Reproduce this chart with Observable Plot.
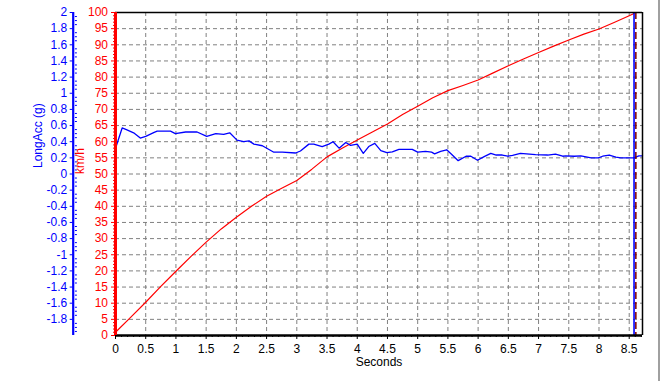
<!DOCTYPE html>
<html>
<head>
<meta charset="utf-8">
<script src="https://cdn.jsdelivr.net/npm/d3@7"></script>
<script src="https://cdn.jsdelivr.net/npm/@observablehq/plot@0.6"></script>
<style>
  html, body { margin: 0; padding: 0; background: #fff; }
  #wrap { position: relative; width: 662px; height: 381px; overflow: hidden; }
  #edge { position: absolute; left: 658px; top: 0; width: 2px; height: 381px; background: #a0a0a0; }
</style>
</head>
<body>
<div id="wrap"><div id="edge"></div></div>
<script>
// ---- data ----
const xMax = 8.72;
const cursorT = 8.58;
const markerT = 8.61;

const speedT = [0, 0.25, 0.5, 0.75, 1.0, 1.25, 1.5, 1.75, 2.0, 2.25, 2.5, 2.75, 3.0, 3.25, 3.5, 3.75, 4.0, 4.25, 4.5, 4.75, 5.0, 5.25, 5.5, 5.75, 6.0, 6.25, 6.5, 6.75, 7.0, 7.25, 7.5, 7.75, 8.0, 8.25, 8.5, 8.58];
const speedKmh = [1, 5.6, 10.3, 15.2, 19.9, 24.5, 28.9, 33.0, 36.6, 40.0, 43.1, 45.6, 48.0, 51.5, 55.3, 58.0, 60.5, 63.0, 65.5, 68.4, 71.0, 73.6, 75.8, 77.4, 79.1, 81.3, 83.5, 85.6, 87.6, 89.6, 91.5, 93.3, 94.9, 96.9, 99.0, 99.7];

const accT = [0.01, 0.11, 0.18, 0.30, 0.41, 0.50, 0.64, 0.69, 0.91, 0.99, 1.16, 1.35, 1.51, 1.66, 1.79, 1.89, 2.01, 2.12, 2.21, 2.29, 2.43, 2.62, 2.76, 2.98, 3.06, 3.20, 3.28, 3.42, 3.53, 3.60, 3.70, 3.81, 3.89, 4.00, 4.10, 4.19, 4.29, 4.39, 4.49, 4.58, 4.69, 4.91, 5.00, 5.13, 5.23, 5.28, 5.38, 5.48, 5.56, 5.67, 5.80, 5.88, 5.99, 6.10, 6.21, 6.30, 6.40, 6.49, 6.57, 6.70, 6.95, 7.15, 7.28, 7.40, 7.45, 7.59, 7.70, 7.87, 7.99, 8.06, 8.17, 8.28, 8.36, 8.58, 8.66, 8.72];
const accG = [0.34, 0.57, 0.55, 0.51, 0.445, 0.465, 0.515, 0.53, 0.53, 0.50, 0.52, 0.52, 0.465, 0.50, 0.49, 0.51, 0.42, 0.40, 0.41, 0.37, 0.35, 0.27, 0.27, 0.26, 0.285, 0.37, 0.37, 0.34, 0.37, 0.40, 0.32, 0.39, 0.355, 0.37, 0.255, 0.34, 0.38, 0.29, 0.265, 0.275, 0.305, 0.305, 0.27, 0.28, 0.27, 0.25, 0.28, 0.30, 0.245, 0.165, 0.22, 0.22, 0.17, 0.215, 0.255, 0.235, 0.235, 0.22, 0.23, 0.255, 0.24, 0.235, 0.245, 0.22, 0.225, 0.22, 0.225, 0.20, 0.20, 0.22, 0.235, 0.21, 0.20, 0.20, 0.225, 0.225];

const xTicks = d3.range(0, 18).map(i => i * 0.5);           // 0 .. 8.5
const xMinor = d3.range(0, 88).map(i => i / 10).filter((d, i) => i % 5 !== 0);
const kmhTicks = d3.range(0, 21).map(i => i * 5);            // 0 .. 100
const kmhMinor = d3.range(0, 101).filter(d => d % 5 !== 0);
const gTicks = d3.range(-9, 11).map(i => i / 5);             // -1.8 .. 2
const gMinor = d3.range(-40, 41).filter(i => i % 4 !== 0).map(i => i / 20);

const gMin = -2, gMax = 2;
const gToY = g => (g - gMin) / (gMax - gMin) * 100;          // shared vertical scale

const speed = speedT.map((t, i) => ({t, v: speedKmh[i]}));
const acc = accT.map((t, i) => ({t, g: accG[i]}));

const RED = "#ff0000", BLUE = "#0000ff";
const fmt = v => String(Math.round(v * 100) / 100);

const blueAxisDx = -42.3;

const chart = Plot.plot({
  width: 662,
  height: 381,
  marginLeft: 115,
  marginRight: 20,
  marginTop: 12,
  marginBottom: 46,
  style: {fontFamily: "'Liberation Sans', Arial, sans-serif", fontSize: "12px", background: "transparent", overflow: "visible"},
  x: {domain: [0, xMax], axis: null},
  y: {domain: [0, 100], axis: null},
  marks: [
    // grid
    Plot.ruleX(xTicks.filter(d => d > 0), {x: d => d, stroke: "#808080", strokeDasharray: "4,3"}),
    Plot.ruleY(kmhTicks.filter(d => d > 0 && d < 100), {y: d => d, stroke: "#808080", strokeDasharray: "4,3"}),
    // data
    Plot.line(speed, {x: "t", y: "v", stroke: RED, strokeWidth: 1.2}),
    Plot.line(acc, {x: "t", y: d => gToY(d.g), stroke: BLUE, strokeWidth: 1.3}),
    // cursors
    Plot.ruleX([cursorT], {x: d => d, stroke: BLUE, strokeWidth: 1.6}),
    Plot.ruleX([markerT], {x: d => d, stroke: "#800000", strokeWidth: 1.5, strokeDasharray: "7,3"}),
    // frame
    Plot.ruleY([100], {y: d => d, stroke: "#000", strokeWidth: 1.5}),
    Plot.ruleX([xMax], {x: d => d, stroke: "#000", strokeWidth: 1.5}),
    Plot.ruleY([0], {y: d => d, stroke: "#000", strokeWidth: 2.5}),
    // x axis
    Plot.axisX({ticks: xTicks, tickSize: 4, tickPadding: 5, tickFormat: fmt, label: null, color: "#000"}),
    Plot.axisX({ticks: xMinor, tickSize: 2, tickFormat: () => "", label: null, color: "#000"}),
    // red km/h axis
    Plot.ruleX([0], {x: d => d, stroke: RED, strokeWidth: 3}),
    Plot.axisY({ticks: kmhTicks, tickSize: 4, tickPadding: 3.5, tickFormat: fmt, label: null, color: RED}),
    Plot.axisY({ticks: kmhMinor, tickSize: 2, tickFormat: () => "", label: null, color: RED}),
    // blue LongAcc axis
    Plot.ruleX([0], {x: d => d, stroke: BLUE, strokeWidth: 2.2, dx: blueAxisDx}),
    Plot.axisY({ticks: gTicks.map(gToY), tickSize: 3, tickPadding: 3, tickFormat: y => fmt(y / 100 * (gMax - gMin) + gMin), label: null, color: BLUE, dx: blueAxisDx}),
    Plot.axisY({anchor: "right", ticks: gMinor.map(gToY), tickSize: 2, tickFormat: () => "", label: null, color: BLUE, dx: 115 + blueAxisDx + 1.2 - 642}),
    // titles
    Plot.text(["LongAcc (g)"], {frameAnchor: "left", text: d => d, rotate: -90, dx: -77, dy: -6, fill: BLUE, fontSize: 12}),
    Plot.text(["km/h"], {frameAnchor: "left", text: d => d, rotate: -90, dx: -35, fill: RED, fontSize: 12}),
    Plot.text(["Seconds"], {frameAnchor: "bottom", text: d => d, dy: 30, fill: "#000", fontSize: 12})
  ]
});
document.getElementById("wrap").prepend(chart);
</script>
</body>
</html>
